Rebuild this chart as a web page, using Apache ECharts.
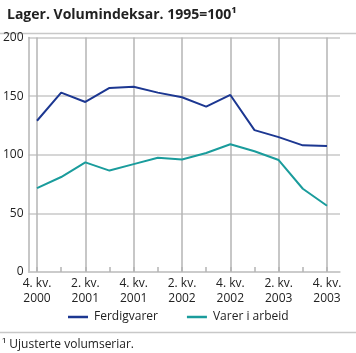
<!DOCTYPE html>
<html>
<head>
<meta charset="utf-8">
<script src="https://cdn.jsdelivr.net/npm/echarts@6/dist/echarts.min.js"></script>
<style>
    html, body { margin: 0; padding: 0; background: #fff; }
    #chart { width: 356px; height: 353px; }
</style>
</head>
<body>
<div id="chart"></div>
<script>
const quarters = ['4. kv.\n2000', '1. kv.\n2001', '2. kv.\n2001', '3. kv.\n2001', '4. kv.\n2001',
    '1. kv.\n2002', '2. kv.\n2002', '3. kv.\n2002', '4. kv.\n2002',
    '1. kv.\n2003', '2. kv.\n2003', '3. kv.\n2003', '4. kv.\n2003'];
const ferdigvarer = [129, 153, 145, 157, 158, 153, 149, 141, 151, 121, 115, 108, 107.5];
const varerIArbeid = [71.5, 81, 93.5, 86.5, 92, 97.5, 96, 101.5, 109, 103, 95.5, 71, 56.5];
const yTicks = [0, 50, 100, 150, 200];

const font = 'Open Sans, DejaVu Sans, sans-serif';
const gridColor = '#c8c8c8';
const vGridColor = '#b4b4b4';
const textColor = '#222';

// grid 0: frame + horizontal gridlines, grid 1: the data (half a step inset on both sides)
let chart = echarts.init(document.getElementById('chart'));
chart.setOption({
    animation: false,
    title: {
        text: 'Lager. Volumindeksar. 1995=100¹',
        left: 2,
        top: 3,
        textStyle: { fontSize: 14, fontWeight: 'bold', color: textColor, fontFamily: font }
    },
    graphic: [
        { type: 'line', shape: { x1: 0, y1: 33.5, x2: 356, y2: 33.5 }, style: { stroke: '#c8c8c8', lineWidth: 1.5 } },
        { type: 'line', shape: { x1: 0, y1: 332.5, x2: 356, y2: 332.5 }, style: { stroke: '#c8c8c8', lineWidth: 1.5 } },
        { type: 'text', left: 2, top: 339, style: { text: '¹ Ujusterte volumseriar.', fontSize: 12, fill: textColor, fontFamily: font } }
    ],
    legend: {
        top: 306,
        left: 63,
        itemWidth: 20,
        itemHeight: 2.5,
        itemGap: 29,
        icon: 'rect',
        textStyle: { fontSize: 12, color: textColor, fontFamily: font, padding: [0, 0, 0, 1] },
        data: ['Ferdigvarer', 'Varer i arbeid']
    },
    grid: [
        { left: 26, right: 16, top: 37.5, bottom: 81 },
        { left: 37, right: 29, top: 37.5, bottom: 81 }
    ],
    xAxis: [{
        gridIndex: 0,
        type: 'value',
        min: 0,
        max: 1,
        axisLine: { show: true, onZero: false, lineStyle: { color: gridColor, width: 1.5 } },
        axisTick: { show: false },
        axisLabel: { show: false },
        splitLine: { show: false }
    }, {
        gridIndex: 1,
        type: 'category',
        data: quarters,
        boundaryGap: false,
        axisLine: { show: false },
        axisTick: { show: true, interval: 0, inside: true, length: 5, lineStyle: { color: vGridColor, width: 1.5 } },
        axisLabel: { interval: 1, color: textColor, fontSize: 12, fontFamily: font, lineHeight: 15, margin: 4 },
        splitLine: { show: true, interval: 1, lineStyle: { color: vGridColor, width: 1.5 } }
    }],
    yAxis: [{
        gridIndex: 0,
        type: 'value',
        min: yTicks[0],
        max: yTicks[yTicks.length - 1],
        interval: 50,
        axisLine: { show: true, lineStyle: { color: vGridColor, width: 1.5 } },
        axisTick: { show: false },
        axisLabel: { color: textColor, fontSize: 12, fontFamily: font, margin: 5 },
        splitLine: { show: true, lineStyle: { color: gridColor, width: 1.5 } }
    }, {
        gridIndex: 1,
        type: 'value',
        min: yTicks[0],
        max: yTicks[yTicks.length - 1],
        interval: 50,
        show: false
    }],
    series: [{
        name: 'Ferdigvarer',
        type: 'line',
        xAxisIndex: 1,
        yAxisIndex: 1,
        data: ferdigvarer,
        symbol: 'none',
        z: 3,
        lineStyle: { width: 2, color: '#1c3791' },
        itemStyle: { color: '#1c3791' }
    }, {
        name: 'Varer i arbeid',
        type: 'line',
        xAxisIndex: 1,
        yAxisIndex: 1,
        data: varerIArbeid,
        symbol: 'none',
        z: 3,
        lineStyle: { width: 2, color: '#1a9c9c' },
        itemStyle: { color: '#1a9c9c' }
    }]
});
</script>
</body>
</html>
